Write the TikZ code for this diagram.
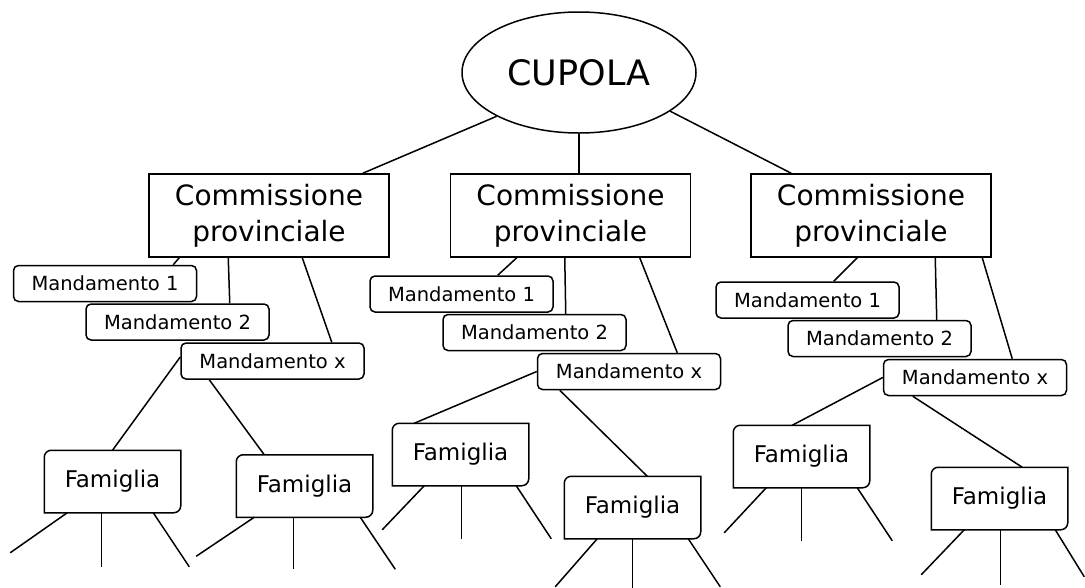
\documentclass[tikz,border=0pt]{standalone}
\usepackage{fontspec}
\setmainfont{DejaVu Sans}
\usetikzlibrary{shapes.geometric}
\begin{document}
\begin{tikzpicture}[x=1pt, y=-1pt, line width=1.5pt]

    % Styles
    \tikzstyle{cupolabox} = [draw, ellipse, minimum width=234pt, minimum height=121pt, inner sep=0pt, font=\fontsize{35}{42}\selectfont]
    \tikzstyle{commbox} = [draw, fill=white, minimum width=240pt, minimum height=83pt, inner sep=0pt, align=center, font=\fontsize{28}{36}\selectfont]
    \tikzstyle{mandbox} = [draw, fill=white, rounded corners=5pt, minimum width=183pt, minimum height=36pt, inner sep=0pt, font=\fontsize{19.5}{23}\selectfont]
    \tikzstyle{fambox} = [minimum width=135pt, minimum height=61pt, inner sep=0pt, font=\fontsize{23}{28}\selectfont]

    \useasboundingbox (0,0) rectangle (1085,587);

    % Cupola
    \node[cupolabox] (cupola) at (579,72.5) {CUPOLA};

    % Commissioni provinciali
    \node[commbox] (cpL) at (269,215.5) {Commissione\\provinciale};
    \node[commbox] (cpM) at (570.5,215.5) {Commissione\\provinciale};
    \node[commbox] (cpR) at (871,215.5) {Commissione\\provinciale};

    % Mandamenti
    \node[mandbox] (m1L) at (105,283.5) {Mandamento 1};
    \node[mandbox] (m2L) at (177.5,322) {Mandamento 2};
    \node[mandbox] (mxL) at (272.5,361) {Mandamento x};
    \node[mandbox] (m1M) at (461.5,294) {Mandamento 1};
    \node[mandbox] (m2M) at (534.5,332.5) {Mandamento 2};
    \node[mandbox] (mxM) at (629,371.5) {Mandamento x};
    \node[mandbox] (m1R) at (807.5,300) {Mandamento 1};
    \node[mandbox] (m2R) at (879.5,338.5) {Mandamento 2};
    \node[mandbox] (mxR) at (975,377.5) {Mandamento x};

    % Famiglie
    \node[fambox] (fL1) at (112.5,481.5) {Famiglia};
    \node[fambox] (fL2) at (304.5,486) {Famiglia};
    \node[fambox] (fM1) at (460.5,454.5) {Famiglia};
    \node[fambox] (fM2) at (632.5,507.5) {Famiglia};
    \node[fambox] (fR1) at (801.5,456.5) {Famiglia};
    \node[fambox] (fR2) at (999.5,498.5) {Famiglia};
    \foreach \f in {fL1,fL2,fM1,fM2,fR1,fR2}
        \draw (\f.west) [rounded corners=7pt] -- (\f.north west) -- (\f.north) [sharp corners] -- (\f.north east) -- (\f.east) [rounded corners=7pt] -- (\f.south east) -- (\f.south) [sharp corners] -- (\f.south west) -- cycle;

    % Cupola -> Commissioni
    \draw (cupola.208) -- ([xshift=-27pt]cpL.north east);
    \draw (cupola.south) -- (cupola.south |- cpM.north);
    \draw (cupola.-23) -- ([xshift=41pt]cpR.north west);

    % Commissioni -> Mandamenti
    \draw ([xshift=31pt]cpL.south west) -- ([xshift=-24pt]m1L.north east);
    \draw ([xshift=80pt]cpL.south west) -- ([xshift=-40pt]m2L.north east);
    \draw ([xshift=154pt]cpL.south west) -- ([xshift=-33pt]mxL.north east);
    \draw ([xshift=67pt]cpM.south west) -- ([xshift=-56pt]m1M.north east);
    \draw ([xshift=115pt]cpM.south west) -- ([xshift=-61pt]m2M.north east);
    \draw ([xshift=190pt]cpM.south west) -- ([xshift=-44pt]mxM.north east);
    \draw ([xshift=107pt]cpR.south west) -- ([xshift=-66pt]m1R.north east);
    \draw ([xshift=185pt]cpR.south west) -- ([xshift=-35pt]m2R.north east);
    \draw ([xshift=232pt]cpR.south west) -- ([xshift=-55pt]mxR.north east);

    % Mandamenti -> Famiglie
    \draw ([yshift=4pt]mxL.west) -- (fL1.north);
    \draw ([xshift=29pt]mxL.south west) -- ([xshift=28pt]fL2.north west);
    \draw (mxM.west) -- ([xshift=22pt]fM1.north west);
    \draw ([xshift=23pt]mxM.south west) -- ([xshift=83pt]fM2.north west);
    \draw (mxR.west) -- ([xshift=59pt]fR1.north west);
    \draw ([xshift=30pt]mxR.south west) -- ([xshift=91pt]fR2.north west);

    % Famiglie -> members
    \draw ([xshift=23pt]fL1.south west) -- ++(-57,40);
    \draw ([xshift=57pt]fL1.south west) -- ++(0,54);
    \draw ([xshift=109pt]fL1.south west) -- ++(36,54);
    \draw ([xshift=18pt]fL2.south west) -- ++(-58,39);
    \draw ([xshift=57pt]fL2.south west) -- ++(0,52);
    \draw ([xshift=124pt]fL2.south west) -- ++(35,52);
    \draw ([xshift=32pt]fM1.south west) -- ++(-42,44);
    \draw ([xshift=69pt]fM1.south west) -- ++(0,53);
    \draw ([xshift=124pt]fM1.south west) -- ++(35,53);
    \draw ([xshift=33pt]fM2.south west) -- ++(-42,48);
    \draw ([xshift=68pt]fM2.south west) -- ++(0,49);
    \draw ([xshift=124pt]fM2.south west) -- ++(32,48);
    \draw ([xshift=33pt]fR1.south west) -- ++(-42,45);
    \draw ([xshift=68pt]fR1.south west) -- ++(0,53);
    \draw ([xshift=124pt]fR1.south west) -- ++(35,53);
    \draw ([xshift=33pt]fR2.south west) -- ++(-43,45);
    \draw ([xshift=69pt]fR2.south west) -- ++(0,55);
    \draw ([xshift=124pt]fR2.south west) -- ++(29,47);

\end{tikzpicture}
\end{document}
